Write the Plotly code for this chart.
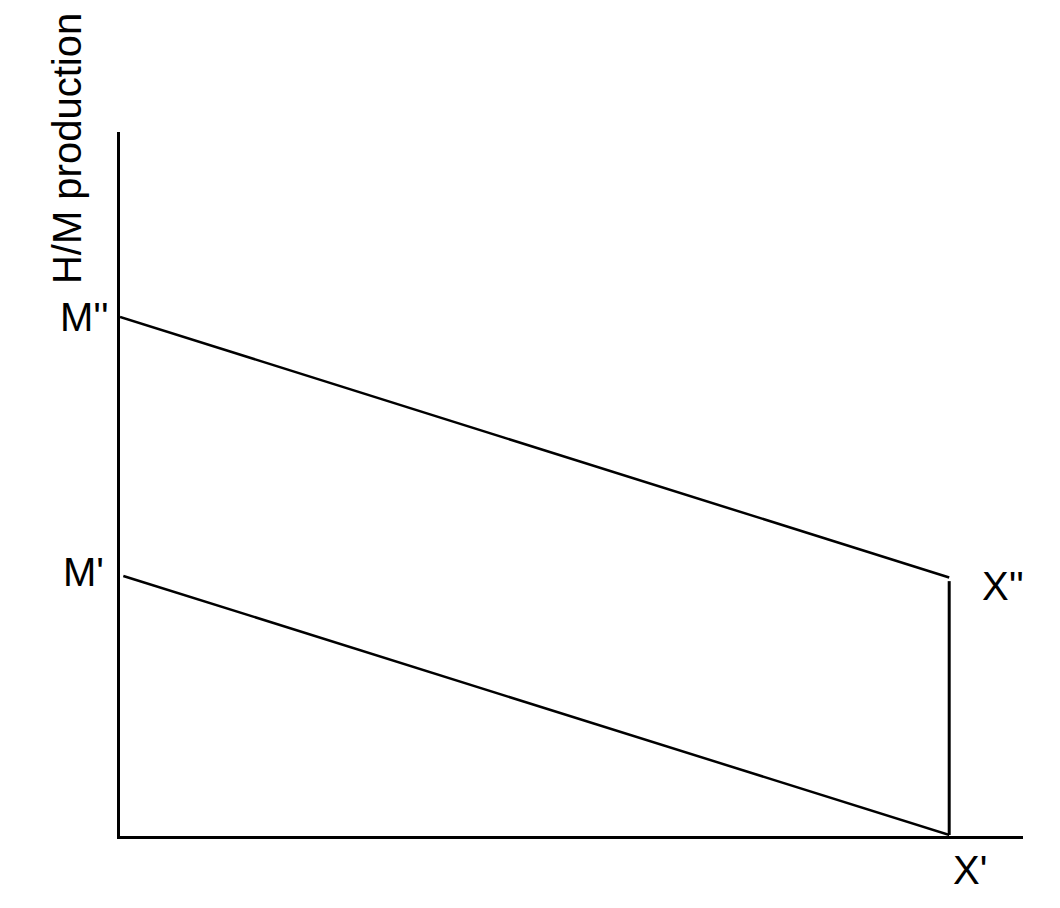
import plotly.graph_objects as go

# Data (abstract units)
upper_x = [0, 10]
upper_y = [10, 4.97]          # M'' -> X''
lower_x = [0.04, 10]
lower_y = [5, 0]              # M' -> X'
vert_x = [10, 10]
vert_y = [4.9, 0]             # X'' -> X'

point_labels = ["M''", "M'", "X''", "X'"]
label_x = [0, 0, 10, 10]
label_y = [10, 5, 4.97, 0]

y_title = "H/M production"

FONT = "Liberation Sans, Arial, sans-serif"

fig = go.Figure()
for xs, ys, w in [(upper_x, upper_y, 2.5), (lower_x, lower_y, 2.5), (vert_x, vert_y, 3)]:
    fig.add_trace(go.Scatter(x=xs, y=ys, mode="lines",
                             line=dict(color="black", width=w),
                             hoverinfo="skip", showlegend=False, cliponaxis=False))

label_style = [
    dict(xanchor="right", yanchor="middle", xshift=-9, yshift=0),
    dict(xanchor="right", yanchor="middle", xshift=-14, yshift=4),
    dict(xanchor="left", yanchor="middle", xshift=31, yshift=-8),
    dict(xanchor="left", yanchor="middle", xshift=2, yshift=-35),
]
for t, x, y, st in zip(point_labels, label_x, label_y, label_style):
    fig.add_annotation(x=x, y=y, xref="x", yref="y", text=t, showarrow=False,
                       font=dict(family=FONT, size=40, color="black"), **st)

fig.add_annotation(x=0, y=13.24, xref="x", yref="y", text=y_title,
                   showarrow=False, textangle=-90, xanchor="center", yanchor="middle",
                   xshift=-53,
                   font=dict(family=FONT, size=40, color="black"))

fig.update_layout(
    width=1052, height=900,
    margin=dict(l=112, r=37, t=124, b=72),
    paper_bgcolor="white", plot_bgcolor="white",
    xaxis=dict(range=[0, 10.89], showgrid=False, zeroline=False, showticklabels=False,
               ticks="", showline=True, linecolor="black", linewidth=3),
    yaxis=dict(range=[-0.02, 13.57], showgrid=False, zeroline=False, showticklabels=False,
               ticks="", showline=True, linecolor="black", linewidth=3),
)

fig.write_html("out.html")
